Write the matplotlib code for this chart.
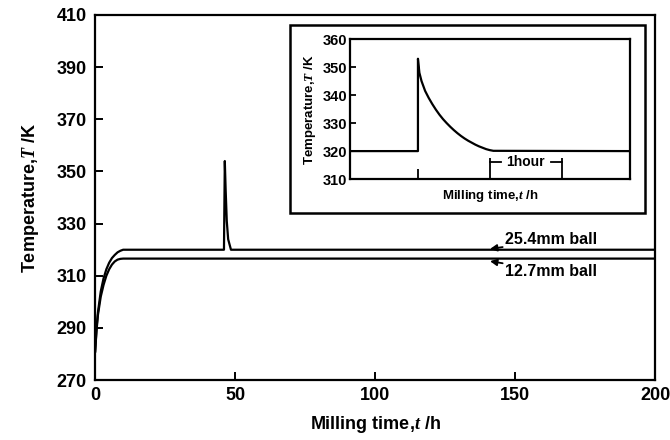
import numpy as np
import matplotlib
matplotlib.use("Agg")
import matplotlib.pyplot as plt
from matplotlib.patches import Rectangle

plt.rcParams['font.family'] = ['Liberation Sans', 'DejaVu Sans']
plt.rcParams['font.weight'] = 'bold'
plt.rcParams['mathtext.fontset'] = 'custom'
plt.rcParams['mathtext.rm'] = 'Liberation Sans:bold'
plt.rcParams['mathtext.it'] = 'Liberation Serif:italic:bold'
plt.rcParams['mathtext.bf'] = 'Liberation Sans:bold'

# main curves (t in h, T in K)
t_254 = [0, 0.5, 1, 2, 3, 4, 5, 6, 7, 8, 9, 10, 46.0, 46.3, 46.6, 47.0, 47.5, 48.5, 200]
T_254 = [281, 290, 296, 304, 309, 312.5, 315, 316.8, 318, 319, 319.6, 320, 320, 354, 343, 331, 324, 320, 320]
t_127 = [0, 0.5, 1, 2, 3, 4, 5, 6, 7, 8, 9, 10, 200]
T_127 = [281, 289, 295, 302, 306.5, 310, 312.5, 314.3, 315.5, 316.2, 316.5, 316.6, 316.6]

# inset: time around the spike, hours
t_in = [-0.95, 0, 0, 0.02, 0.05, 0.1, 0.15, 0.2, 0.25, 0.3, 0.35, 0.4, 0.45, 0.5, 0.55,
        0.6, 0.65, 0.7, 0.75, 0.8, 0.85, 0.9, 0.95, 1.0, 1.05, 2.96]
T_in = [320, 320, 353, 348, 345, 341.5, 339, 336.8, 334.8, 333, 331.4, 330, 328.7, 327.5, 326.4,
        325.4, 324.5, 323.7, 323, 322.3, 321.7, 321.2, 320.7, 320.35, 320.1, 320]
hour_marks = [1, 2]

main_xticks = [0, 50, 100, 150, 200]
main_yticks = [270, 290, 310, 330, 350, 370, 390, 410]
inset_yticks = [310, 320, 330, 340, 350, 360]

fig = plt.figure(figsize=(6.7, 4.4), dpi=100)
ax = fig.add_axes([0.142, 0.136, 0.836, 0.830])

ax.plot(t_254, T_254, color='black', lw=1.6)
ax.plot(t_127, T_127, color='black', lw=1.6)
ax.set_xlim(0, 200)
ax.set_ylim(270, 410)
ax.set_xticks(main_xticks)
ax.set_yticks(main_yticks)
ax.tick_params(direction='in', length=6, width=1.4, labelsize=13)
ax.tick_params(axis='x', pad=5)
ax.tick_params(axis='y', pad=6)
for lab in ax.get_xticklabels() + ax.get_yticklabels():
    lab.set_fontweight('bold')
for s in ax.spines.values():
    s.set_linewidth(1.6)
ax.set_xlabel(r'Milling time,$\mathit{t}$ /h', fontsize=13, fontweight='bold', labelpad=7)
ax.set_ylabel(r'Temperature,$\mathit{T}$ /K', fontsize=13, fontweight='bold', labelpad=11)

arrow = dict(arrowstyle='-|>', color='black', lw=1.3, mutation_scale=10, shrinkA=0, shrinkB=0)
ax.annotate('25.4mm ball', xy=(141, 320.3), xytext=(146.5, 323.8), fontsize=11.5,
            fontweight='bold', va='center', ha='left', arrowprops=arrow)
ax.annotate('12.7mm ball', xy=(141, 315.6), xytext=(146.5, 311.8), fontsize=11.5,
            fontweight='bold', va='center', ha='left', arrowprops=arrow)

# frame round the inset
fig.patches.append(Rectangle((0.433, 0.516), 0.530, 0.427, transform=fig.transFigure,
                             fill=False, lw=1.8, ec='black'))

ins = fig.add_axes([0.522, 0.593, 0.419, 0.318])
ins.plot(t_in, T_in, color='black', lw=1.6)
ins.set_xlim(-0.95, 2.96)
ins.set_ylim(310, 360)
ins.set_yticks(inset_yticks)
ins.set_xticks([0])
ins.set_xticklabels([])
ins.tick_params(axis='y', direction='in', length=4, width=1.3, labelsize=10.5, pad=2)
ins.tick_params(axis='x', direction='in', length=7, width=1.3)
for lab in ins.get_yticklabels():
    lab.set_fontweight('bold')
for s in ins.spines.values():
    s.set_linewidth(1.6)
ins.set_xlabel(r'Milling time,$\mathit{t}$ /h', fontsize=9.5, fontweight='bold', labelpad=3)
ins.set_ylabel(r'Temperature,$\mathit{T}$ /K', fontsize=9.5, fontweight='bold', labelpad=3)

# "1hour" bracket
trans = ins.get_xaxis_transform()
ins.vlines(hour_marks, 0, 0.15, transform=trans, color='black', lw=1.3)
ins.plot([hour_marks[0], hour_marks[0] + 0.15], [0.12, 0.12], transform=trans, color='black', lw=1.3)
ins.plot([hour_marks[1] - 0.15, hour_marks[1]], [0.12, 0.12], transform=trans, color='black', lw=1.3)
ins.text(np.mean(hour_marks), 0.12, '1hour', transform=trans, ha='center', va='center',
         fontsize=10, fontweight='bold')

fig.savefig('out.png', dpi=100)
